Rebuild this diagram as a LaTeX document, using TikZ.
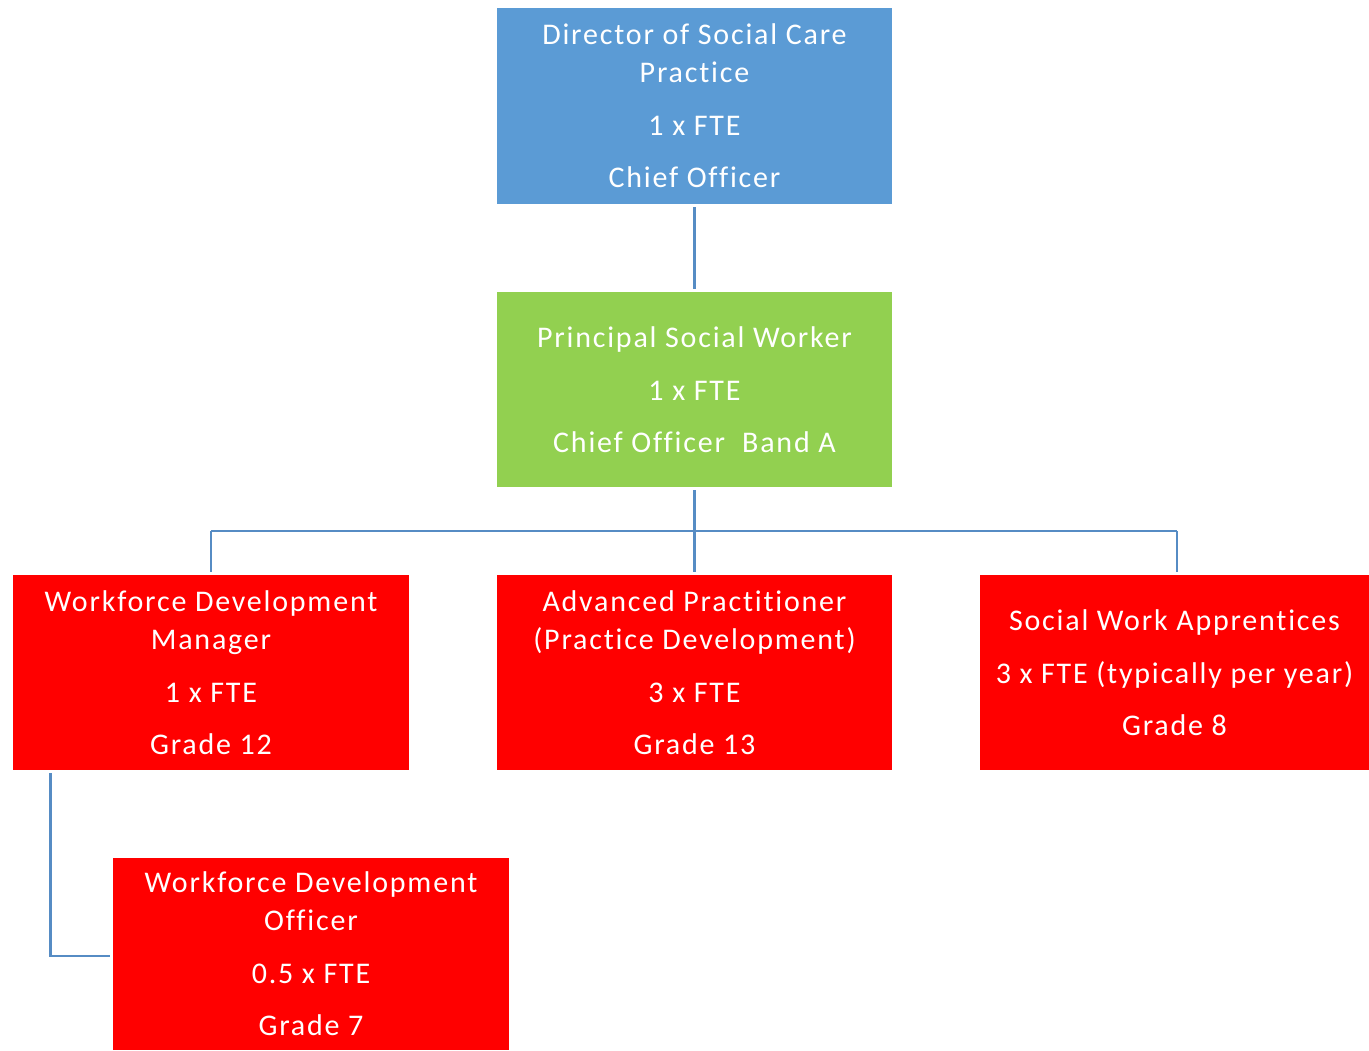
\documentclass[tikz,border=0pt]{standalone}
\usepackage{fontspec}
\setmainfont[LetterSpace=6,Ligatures=NoCommon]{Carlito}
\definecolor{dirblue}{RGB}{91,155,213}
\definecolor{psgreen}{RGB}{146,208,80}
\definecolor{boxred}{RGB}{255,0,0}
\definecolor{linkblue}{RGB}{86,140,196}
\begin{document}
\begin{tikzpicture}[x=1pt,y=-1pt,
  box/.style={rectangle, inner sep=0pt, text=white, align=center,
    font=\fontsize{30}{38}\selectfont, minimum height=195pt},
  link/.style={draw=linkblue, line width=2.8pt}]
\useasboundingbox (0,0) rectangle (1369,1051);
\node[box, fill=dirblue, minimum width=395pt, minimum height=196pt] (dir) at (694.5,106)
  {Director of Social Care\\Practice\\[15pt]1 x FTE\\[14pt]Chief Officer};
\node[box, fill=psgreen, minimum width=395pt] (psw) at (694.5,389.5)
  {Principal Social Worker\\[15pt]1 x FTE\\[14pt]Chief Officer\ \ Band A};
\node[box, fill=boxred, minimum width=396pt] (wdm) at (211,672.5)
  {Workforce Development\\Manager\\[15pt]1 x FTE\\[14pt]Grade 12};
\node[box, fill=boxred, minimum width=395pt] (ap) at (694.5,672.5)
  {Advanced Practitioner\\(Practice Development)\\[15pt]3 x FTE\\[14pt]Grade 13};
\node[box, fill=boxred, minimum width=389pt] (swa) at (1174.5,672.5)
  {Social Work Apprentices\\[15pt]3 x FTE (typically per year)\\[14pt]Grade 8};
\node[box, fill=boxred, minimum width=396pt, minimum height=192pt] (wdo) at (311,954)
  {Workforce Development\\Officer\\[15pt]0.5 x FTE\\[14pt]Grade 7};
\coordinate (bus) at (694.5,531);
\draw[link, shorten <=3pt, shorten >=3pt] (dir.south) -- (psw.north);
\draw[link, shorten <=3pt] (psw.south) -- (bus);
\draw[link] (bus -| wdm.north) -- (bus -| 1177,0);
\draw[link, shorten >=3pt] (bus) -- (ap.north);
\draw[link, shorten >=3pt] (bus -| wdm.north) -- (wdm.north);
\draw[link, shorten >=3pt] (bus -| 1177,0) -- (1177,575);
\draw[link] ([xshift=38pt,yshift=-3pt]wdm.south west) |- ([xshift=-3pt,yshift=-2pt]wdo.west);
\end{tikzpicture}
\end{document}
